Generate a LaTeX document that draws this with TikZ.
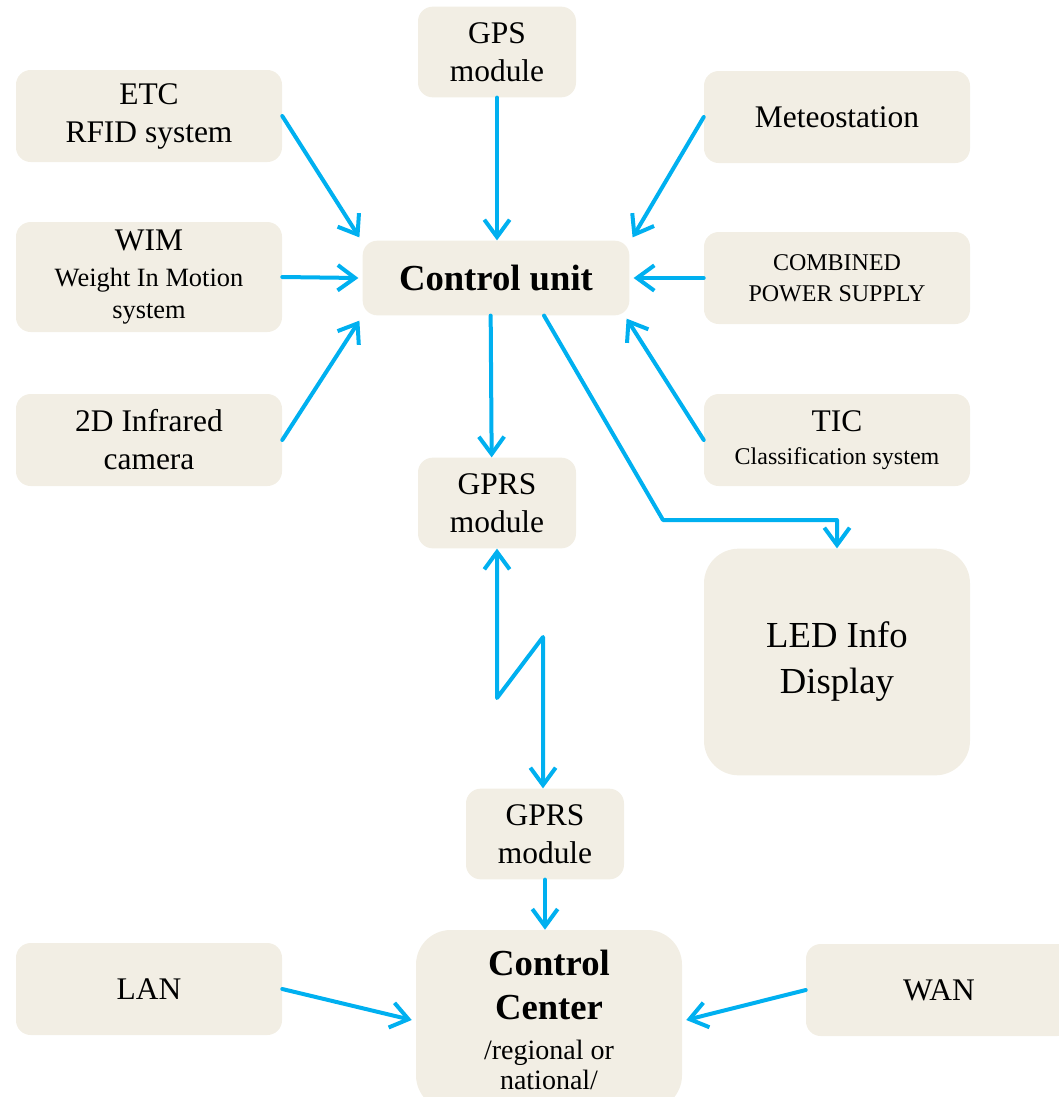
\documentclass[tikz,border=0pt]{standalone}
\usepackage{fontspec}
\setmainfont{Liberation Serif}
\usepackage{xcolor}
\usepackage{tikz}
\usetikzlibrary{arrows.meta,positioning,calc}
\definecolor{boxfill}{RGB}{242,238,228}
\definecolor{linkblue}{RGB}{0,176,240}
\newcommand{\txtnorm}{\fontsize{23.6}{28.5}\selectfont}
\newcommand{\txtsmall}{\fontsize{19.8}{24}\selectfont}
\newcommand{\txttiny}{\fontsize{18}{23}\selectfont}
\newcommand{\txtbig}{\fontsize{27.5}{33}\selectfont\bfseries}

\begin{document}
\begin{tikzpicture}[x=0.75pt,y=-0.75pt,
        box/.style={fill=boxfill, rounded corners=11pt, inner sep=0pt, align=center,
            minimum width=199.5pt, minimum height=69pt, font=\txtnorm},
        modbox/.style={box, minimum width=118.5pt, minimum height=68pt},
        bigbox/.style={box, rounded corners=26pt},
        link/.style={draw=linkblue, line width=3pt, line cap=round, line join=round,
            -{Straight Barb[length=13pt,width=19pt]}}]
        \useasboundingbox (0,0) rectangle (1058,1097);
        % units and sensors
        \node[modbox] (gps) at (497,52) {GPS\\module};
        \node[box] (etc) at (149,116) {ETC\\RFID system};
        \node[box] (meteo) at (837,117) {Meteostation};
        \node[box, minimum height=82.5pt, font=\txtsmall] (wim) at (149,277) {{\txtnorm WIM}\\[3pt]Weight In Motion\\system};
        \node[box, minimum width=200pt, minimum height=56pt, font=\txtbig] (cu) at (496,278) {Control unit};
        \node[box, font=\txttiny] (power) at (837,278) {COMBINED\\POWER SUPPLY};
        \node[box] (ir) at (149,440) {2D Infrared\\camera};
        \node[box, font=\txttiny] (tic) at (837,440) {{\txtnorm TIC}\\[2pt]Classification system};
        \node[modbox] (gprsa) at (497,503) {GPRS\\module};
        \node[bigbox, minimum height=170pt, font=\fontsize{27.5}{34.5}\selectfont] (led) at (837,662) {LED Info\\Display};
        \node[modbox] (gprsb) at (545,834) {GPRS\\module};
        \node[bigbox, minimum height=135pt, font=\txtbig] (cc) at (549,1020) {Control\\Center\\[-3pt]{\mdseries\fontsize{21}{22}\selectfont /regional or}\\[-10.5pt]{\mdseries\fontsize{21}{22}\selectfont national/}};
        \node[box] (lan) at (149,989) {LAN};
        \node[box] (wan) at (939,990) {WAN};
        % links
        \coordinate (bend) at (663,520);
        \coordinate (zza) at (497,698);
        \coordinate (zzb) at (543,637);
        \draw[link] (etc.east) -- ([shift={(-3,-3)}]cu.north west);
        \draw[link] (gps.south) -- (gps.south |- cu.north);
        \draw[link] (meteo.west) -- ([shift={(3,-3)}]cu.north east);
        \draw[link] (wim.east) -- ([xshift=-3pt]cu.west);
        \draw[link] (power.west) -- ([xshift=3pt]cu.east);
        \draw[link] (ir.east) -- ([shift={(-3,5)}]cu.south west);
        \draw[link] (tic.west) -- ([shift={(-3,3)}]cu.south east);
        \draw[link] ([xshift=-4pt]cu.south) -- ([xshift=-4pt]gprsa.north);
        \draw[link] ([xshift=36pt]cu.south) -- (bend) -- (bend -| led.north) -- (led.north);
        \draw[link, {Straight Barb[length=13pt,width=19pt]}-{Straight Barb[length=13pt,width=19pt]}]
            (gprsa.south) -- (zza) -- (zzb) -- (zzb |- gprsb.north);
        \draw[link] (gprsb.south) -- (gprsb.south |- cc.north);
        \draw[link] (lan.east) -- ([xshift=-3pt]cc.west);
        \draw[link] (wan.west) -- ([xshift=3pt]cc.east);
    \end{tikzpicture}
\end{document}
